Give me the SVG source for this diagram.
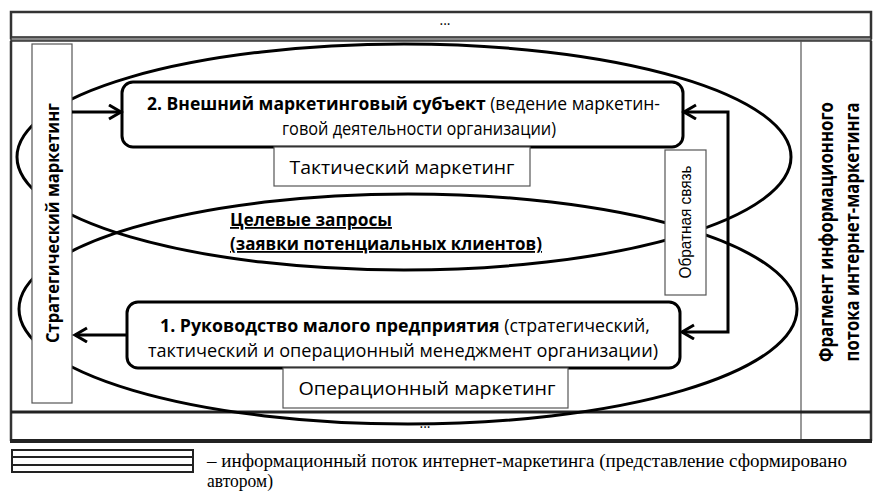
<svg xmlns="http://www.w3.org/2000/svg" width="890" height="500" viewBox="0 0 890 500">
<style>
.frame{fill:none;stroke:#333;stroke-width:2.5}
.thin{fill:none;stroke:#555;stroke-width:1.2}
.ell{fill:none;stroke:#000;stroke-width:3}
.rbox{fill:#fff;stroke:#000;stroke-width:3}
.lbox{fill:#fff;stroke:#555;stroke-width:1.2}
.conn{fill:none;stroke:#000;stroke-width:3}
.t{font-family:"Open Sans","Noto Sans",sans-serif;fill:#000}
.b{font-weight:bold}
.a{font-family:"Liberation Sans",Arial,sans-serif;fill:#000}
.serif{font-family:"Liberation Serif","Times New Roman",serif;fill:#000}
</style>
<defs>
<marker id="arr" markerUnits="userSpaceOnUse" markerWidth="16" markerHeight="18" refX="13" refY="8" orient="auto-start-reverse" viewBox="0 0 16 18">
<path d="M1,1 L13,8 L1,15" fill="none" stroke="#000" stroke-width="3"/>
</marker>
</defs>
<rect width="890" height="500" fill="#fff"/>
<g id="frame">
<rect x="11" y="12" width="860" height="26" class="frame"/>
<text x="445" y="25" class="t" font-size="14" text-anchor="middle">...</text>
<rect x="11" y="37" width="860" height="4" fill="#888" stroke="#333" stroke-width="1.5"/>
<line x1="11" y1="41" x2="11" y2="441" class="frame"/>
<line x1="871" y1="41" x2="871" y2="441" class="frame"/>
<line x1="801" y1="41" x2="801" y2="441" class="thin"/>
<line x1="11" y1="412" x2="871" y2="412" stroke="#222" stroke-width="3"/>
<line x1="10" y1="441" x2="872" y2="441" stroke="#222" stroke-width="4"/>
<text x="425" y="428" class="t" font-size="14" text-anchor="middle">...</text>
</g>
<g id="ellipses">
<ellipse cx="404" cy="157" rx="387" ry="113" class="ell"/>
<ellipse cx="408" cy="309" rx="389" ry="115" class="ell"/>
</g>
<g id="strategic">
<rect x="32" y="44" width="40" height="359" class="lbox"/>
<text transform="translate(59,223) rotate(-90)" class="t b" font-size="18" text-anchor="middle" textLength="240" lengthAdjust="spacingAndGlyphs">Стратегический маркетинг</text>
</g>
<g id="node2">
<rect x="122" y="82" width="561" height="65" rx="11" class="rbox"/>
<text x="147" y="110" class="t" font-size="18" textLength="513" lengthAdjust="spacingAndGlyphs"><tspan class="b">2. Внешний маркетинговый субъект</tspan> (ведение маркетин-</text>
<text x="282" y="135" class="t" font-size="18" textLength="274" lengthAdjust="spacingAndGlyphs">говой деятельности организации)</text>
</g>
<g id="tactical">
<rect x="274" y="147" width="256" height="39" class="lbox"/>
<text x="402" y="174" class="t" font-size="18" text-anchor="middle" textLength="225" lengthAdjust="spacingAndGlyphs">Тактический маркетинг</text>
</g>
<g id="targets">
<text x="230" y="226" class="t b" font-size="18" text-decoration="underline" textLength="162" lengthAdjust="spacingAndGlyphs">Целевые запросы</text>
<text x="230" y="250" class="t b" font-size="18" text-decoration="underline" textLength="312" lengthAdjust="spacingAndGlyphs">(заявки потенциальных клиентов)</text>
</g>
<g id="feedback">
<rect x="665" y="150" width="41" height="145" class="lbox"/>
<text transform="translate(691,222) rotate(-90)" class="a" font-size="16" text-anchor="middle" textLength="113" lengthAdjust="spacingAndGlyphs">Обратная связь</text>
</g>
<g id="node1">
<rect x="127" y="302" width="553" height="66" rx="11" class="rbox"/>
<text x="160" y="332" class="t" font-size="18" textLength="490" lengthAdjust="spacingAndGlyphs"><tspan class="b">1. Руководство малого предприятия</tspan> (стратегический,</text>
<text x="148" y="357" class="t" font-size="18" textLength="510" lengthAdjust="spacingAndGlyphs">тактический и операционный менеджмент организации)</text>
</g>
<g id="operational">
<rect x="283" y="368" width="285" height="40" class="lbox"/>
<text x="427" y="395" class="t" font-size="18" text-anchor="middle" textLength="257" lengthAdjust="spacingAndGlyphs">Операционный маркетинг</text>
</g>
<g id="fragment">
<text transform="translate(833,232) rotate(-90)" class="t b" font-size="19" text-anchor="middle" textLength="260" lengthAdjust="spacingAndGlyphs">Фрагмент информационного</text>
<text transform="translate(859,232) rotate(-90)" class="t b" font-size="19" text-anchor="middle" textLength="259" lengthAdjust="spacingAndGlyphs">потока интернет-маркетинга</text>
</g>
<g id="connectors">
<line x1="72" y1="112" x2="121" y2="112" class="conn" marker-end="url(#arr)"/>
<line x1="127" y1="335" x2="75" y2="335" class="conn" marker-end="url(#arr)"/>
<polyline points="682,332 728,332 728,112 684,112" class="conn" marker-start="url(#arr)" marker-end="url(#arr)"/>
</g>
<g id="legend">
<rect x="12" y="450" width="181" height="22" fill="#fff" stroke="#222" stroke-width="2"/>
<line x1="12" y1="457" x2="193" y2="457" stroke="#222" stroke-width="2"/>
<line x1="12" y1="465" x2="193" y2="465" stroke="#222" stroke-width="2"/>
<text x="207" y="467" class="serif" font-size="19" textLength="640" lengthAdjust="spacingAndGlyphs">– информационный поток интернет-маркетинга (представление сформировано</text>
<text x="207" y="487" class="serif" font-size="19" textLength="66" lengthAdjust="spacingAndGlyphs">автором)</text>
</g>
</svg>
